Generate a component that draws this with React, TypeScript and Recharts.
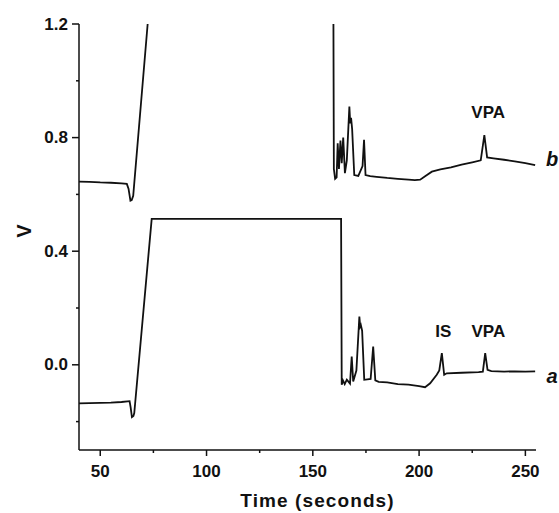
import { LineChart, Line, XAxis, YAxis, ReferenceDot } from "recharts";

// trace a (bottom): sample + internal standard
const timeA = [
  40, 45, 50, 55, 60, 63.8, 64.3, 64.9, 65.6, 66.0, 74.2, 163.3, 163.6, 164.2, 165.0, 166.0, 167.5,
  168.3, 169.0, 170.5, 171.9, 172.3, 172.6, 173.2, 174.2, 177.2, 178.4, 179.4, 181, 185, 190, 195,
  200, 202.8, 205.2, 208.3, 209.5, 210.7, 211.8, 213, 220, 228, 230, 231.1, 232.2, 234, 240, 245,
  250, 254.6,
];
const voltA = [
  -0.136, -0.135, -0.134, -0.133, -0.131, -0.128, -0.15, -0.184, -0.18, -0.17, 0.514, 0.514, -0.07,
  -0.055, -0.068, -0.052, -0.066, 0.029, -0.059, -0.02, 0.17, 0.135, 0.14, 0.12, -0.053, -0.05,
  0.064, -0.055, -0.06, -0.062, -0.068, -0.07, -0.075, -0.079, -0.065, -0.035, -0.02, 0.041, -0.035,
  -0.03, -0.028, -0.026, -0.024, 0.041, -0.018, -0.022, -0.024, -0.023, -0.024, -0.023,
];

// trace b (top): blank
const timeB = [
  40, 45, 50, 55, 60, 62.5, 63.3, 64.2, 64.8, 65.5, 72.3, 100, 159.7, 159.9, 160.5, 161.2, 161.7,
  162.3, 163.0, 163.6, 164.3, 165.1, 166.0, 167.2, 167.6, 168.0, 168.5, 169.5, 171.4, 173.4, 174.1,
  174.8, 177, 180, 185, 190, 195, 198, 200.5, 203, 206, 210, 215, 220, 225, 229, 230.7, 232, 235,
  240, 245, 250, 254.6,
];
const voltB = [
  0.645, 0.644, 0.642, 0.641, 0.639, 0.637, 0.62, 0.578, 0.58, 0.595, 1.2, null, 1.2, 0.69, 0.655,
  0.66, 0.78, 0.69, 0.79, 0.71, 0.8, 0.675, 0.72, 0.909, 0.85, 0.87, 0.83, 0.668, 0.665, 0.7, 0.792,
  0.668, 0.664, 0.662, 0.658, 0.655, 0.652, 0.65, 0.652, 0.665, 0.68, 0.688, 0.695, 0.705, 0.713,
  0.72, 0.809, 0.73, 0.727, 0.722, 0.716, 0.71, 0.703,
];

const xTicks = [50, 75, 100, 125, 150, 175, 200, 225, 250];
const yTicks = [-0.2, 0, 0.2, 0.4, 0.6, 0.8, 1.0, 1.2];

const peakLabels = [
  { t: 232.5, v: 0.887, text: "VPA" },
  { t: 211.4, v: 0.117, text: "IS" },
  { t: 232.6, v: 0.117, text: "VPA" },
];
const traceLabels = [
  { t: 262.6, v: 0.725, text: "b" },
  { t: 262.6, v: -0.04, text: "a" },
];

const seriesA = timeA.map((t, i) => ({ t, v: voltA[i] }));
const seriesB = timeB.map((t, i) => ({ t, v: voltB[i] }));

const FONT = "'Liberation Sans', Arial, Helvetica, sans-serif";
const INK = "#111";

function XTick({ x, y, payload }: any) {
  const major = payload.value % 50 === 0;
  return (
    <g>
      <line x1={x} x2={x} y1={y} y2={y + (major ? 6 : 3)} stroke={INK} strokeWidth={1.5} />
      {major && (
        <text
          x={x}
          y={y + 21}
          textAnchor="middle"
          dominantBaseline="central"
          fontFamily={FONT}
          fontWeight="bold"
          fontSize={17}
          fill={INK}
        >
          {payload.value}
        </text>
      )}
    </g>
  );
}

function YTick({ x, y, payload }: any) {
  const major = Math.round(payload.value * 10) % 4 === 0;
  return (
    <g>
      <line x1={x - (major ? 7 : 3)} x2={x} y1={y} y2={y} stroke={INK} strokeWidth={1.5} />
      {major && (
        <text
          x={x - 11}
          y={y}
          textAnchor="end"
          dominantBaseline="central"
          fontFamily={FONT}
          fontWeight="bold"
          fontSize={17}
          fill={INK}
        >
          {payload.value.toFixed(1)}
        </text>
      )}
    </g>
  );
}

function textLabel(text: string, italic: boolean) {
  return (p: any) => (
    <text
      x={p.viewBox.x}
      y={p.viewBox.y}
      textAnchor="middle"
      dominantBaseline="central"
      fontFamily={FONT}
      fontWeight="bold"
      fontStyle={italic ? "italic" : "normal"}
      fontSize={italic ? 20 : 17}
      fill={INK}
    >
      {text}
    </text>
  );
}

export default function App() {
  return (
    <div style={{ position: "fixed", left: 0, top: 0, background: "#fff" }}>
      <LineChart width={559} height={513} margin={{ top: 24, right: 23, bottom: 0, left: 0 }}>
        <XAxis
          dataKey="t"
          type="number"
          domain={[40, 255]}
          ticks={xTicks}
          interval={0}
          tickSize={0}
          tickMargin={0}
          tickLine={false}
          tick={<XTick />}
          height={63}
          axisLine={{ stroke: INK, strokeWidth: 1.5 }}
          label={(p: any) => (
            <text
              x={p.viewBox.x + p.viewBox.width / 2 + 10}
              y={p.viewBox.y + 57}
              textAnchor="middle"
              fontFamily={FONT}
              fontWeight="bold"
              fontSize={19}
              letterSpacing={1.1}
              fill={INK}
            >
              Time (seconds)
            </text>
          )}
        />
        <YAxis
          type="number"
          domain={[-0.3, 1.2]}
          ticks={yTicks}
          interval={0}
          tickSize={0}
          tickMargin={0}
          tickLine={false}
          tick={<YTick />}
          width={79}
          axisLine={{ stroke: INK, strokeWidth: 1.5 }}
          label={() => (
            <text
              x={23.5}
              y={231}
              textAnchor="middle"
              dominantBaseline="central"
              transform="rotate(-90, 23.5, 231)"
              fontFamily={FONT}
              fontWeight="bold"
              fontSize={20}
              fill={INK}
            >
              V
            </text>
          )}
        />
        <Line
          data={seriesB}
          dataKey="v"
          type="linear"
          stroke={INK}
          strokeWidth={1.8}
          dot={false}
          connectNulls={false}
          isAnimationActive={false}
        />
        <Line
          data={seriesA}
          dataKey="v"
          type="linear"
          stroke={INK}
          strokeWidth={1.8}
          dot={false}
          isAnimationActive={false}
        />
        {peakLabels.map((l, i) => (
          <ReferenceDot
            key={"p" + i}
            x={l.t}
            y={l.v}
            r={0}
            stroke="none"
            fill="none"
            ifOverflow="visible"
            label={textLabel(l.text, false)}
          />
        ))}
        {traceLabels.map((l, i) => (
          <ReferenceDot
            key={"t" + i}
            x={l.t}
            y={l.v}
            r={0}
            stroke="none"
            fill="none"
            ifOverflow="visible"
            label={textLabel(l.text, true)}
          />
        ))}
      </LineChart>
    </div>
  );
}
